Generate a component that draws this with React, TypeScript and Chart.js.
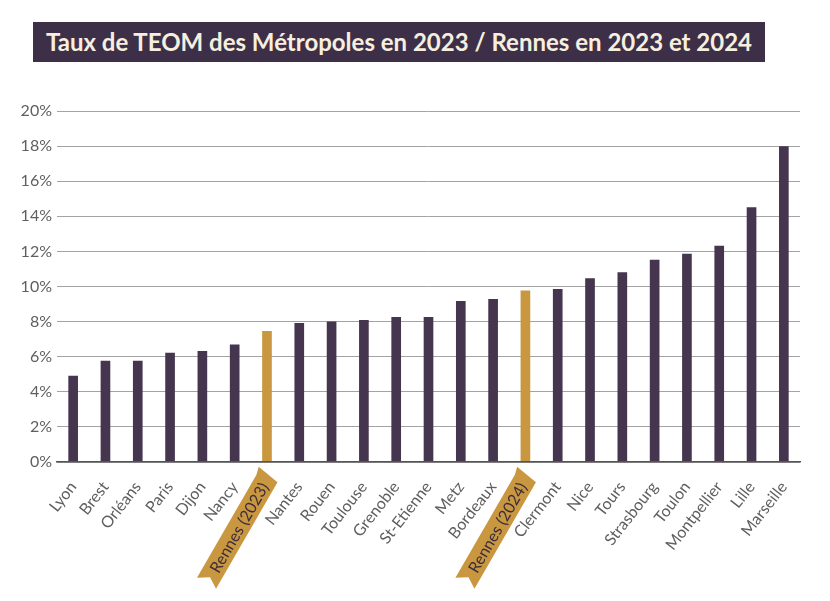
import React, { useEffect, useRef } from "react";
import { Chart, registerables } from "chart.js";

Chart.register(...registerables);

const TITLE = "Taux de TEOM des Métropoles en 2023 / Rennes en 2023 et 2024";

const categories = [
  "Lyon", "Brest", "Orléans", "Paris", "Dijon", "Nancy", "Rennes (2023)",
  "Nantes", "Rouen", "Toulouse", "Grenoble", "St-Etienne", "Metz", "Bordeaux",
  "Rennes (2024)", "Clermont", "Nice", "Tours", "Strasbourg", "Toulon",
  "Montpellier", "Lille", "Marseille",
];

const teomRates = [
  4.9, 5.75, 5.75, 6.2, 6.3, 6.67, 7.45, 7.9, 7.98, 8.07, 8.24, 8.24, 9.15,
  9.27, 9.76, 9.84, 10.45, 10.79, 11.5, 11.85, 12.3, 14.5, 17.97,
];

const highlighted = ["Rennes (2023)", "Rennes (2024)"];

const yTickValues = [0, 2, 4, 6, 8, 10, 12, 14, 16, 18, 20];

const PURPLE = "#45354f";
const GOLD = "#c9973f";
const TICK_FONT = { family: "Lato", size: 16 };

const ribbonPlugin = {
  id: "ribbon",
  afterDraw(chart: any) {
    const scale = chart.scales.x;
    const ctx = chart.ctx;
    ctx.save();
    ctx.font = `${TICK_FONT.size}px ${TICK_FONT.family}`;
    categories.forEach((c, i) => {
      if (!highlighted.includes(c)) return;
      const x = scale.getPixelForTick(i);
      const y = scale.top + 13;
      const w = ctx.measureText(c).width;
      ctx.save();
      ctx.translate(x + 2, y);
      ctx.rotate(-Math.PI / 3);
      const h = 11;
      const len = w + 24;
      ctx.beginPath();
      ctx.moveTo(-len, -h);
      ctx.lineTo(-6, -h);
      ctx.lineTo(2, -h - 2);
      ctx.lineTo(-2, h);
      ctx.lineTo(-len, h);
      ctx.lineTo(-len + 7, 0);
      ctx.closePath();
      ctx.fillStyle = GOLD;
      ctx.fill();
      ctx.fillStyle = "#3a2c3c";
      ctx.textAlign = "right";
      ctx.textBaseline = "middle";
      ctx.fillText(c, -10, 1);
      ctx.restore();
    });
    ctx.restore();
  },
};

export default function App() {
  const ref = useRef<HTMLCanvasElement | null>(null);

  useEffect(() => {
    if (!ref.current) return;
    const chart = new Chart(ref.current, {
      type: "bar",
      data: {
        labels: categories,
        datasets: [
          {
            data: teomRates,
            backgroundColor: categories.map((c) =>
              highlighted.includes(c) ? GOLD : PURPLE
            ),
            barThickness: 9,
          },
        ],
      },
      options: {
        responsive: false,
        animation: false,
        layout: { padding: { top: 111, right: 30, left: 0, bottom: 0 } },
        plugins: {
          legend: { display: false },
          title: { display: false },
          tooltip: { enabled: false },
        },
        scales: {
          x: {
            grid: { display: false, drawTicks: false },
            border: { display: true, color: "#555555", width: 1.5, z: 1 },
            ticks: {
              autoSkip: false,
              maxRotation: 52,
              minRotation: 52,
              padding: 16,
              font: TICK_FONT,
              color: (ctx: any) =>
                highlighted.includes(categories[ctx.index]) ? "rgba(0,0,0,0)" : "#5f5f5f",
            },
            afterFit(scale: any) {
              scale.height = 601 - 462;
            },
          },
          y: {
            min: 0,
            max: 20,
            afterBuildTicks(scale: any) {
              scale.ticks = yTickValues.map((v) => ({ value: v }));
            },
            grid: { color: "#a3a3a3", drawTicks: false, lineWidth: 1 },
            border: { display: false },
            ticks: {
              padding: 5,
              font: { family: "Lato", size: 16 },
              color: "#5f5f5f",
              callback: (v: any) => `${v}%`,
            },
            afterFit(scale: any) {
              scale.width = 57;
            },
          },
        },
      },
      plugins: [ribbonPlugin],
    });
    return () => chart.destroy();
  }, []);

  return (
    <div style={{ position: "absolute", left: 0, top: 0, width: 830, height: 601, background: "#fff" }}>
      <div
        style={{
          position: "absolute",
          left: 33,
          top: 22,
          width: 732,
          height: 40,
          background: "#3e2f48",
          color: "#f6efdf",
          fontFamily: "Lato",
          fontWeight: 700,
          fontSize: 24,
          lineHeight: "40px",
          textAlign: "center",
          whiteSpace: "nowrap",
        }}
      >
        {TITLE}
      </div>
      <canvas ref={ref} width={830} height={601} style={{ position: "absolute", left: 0, top: 0 }} />
    </div>
  );
}
